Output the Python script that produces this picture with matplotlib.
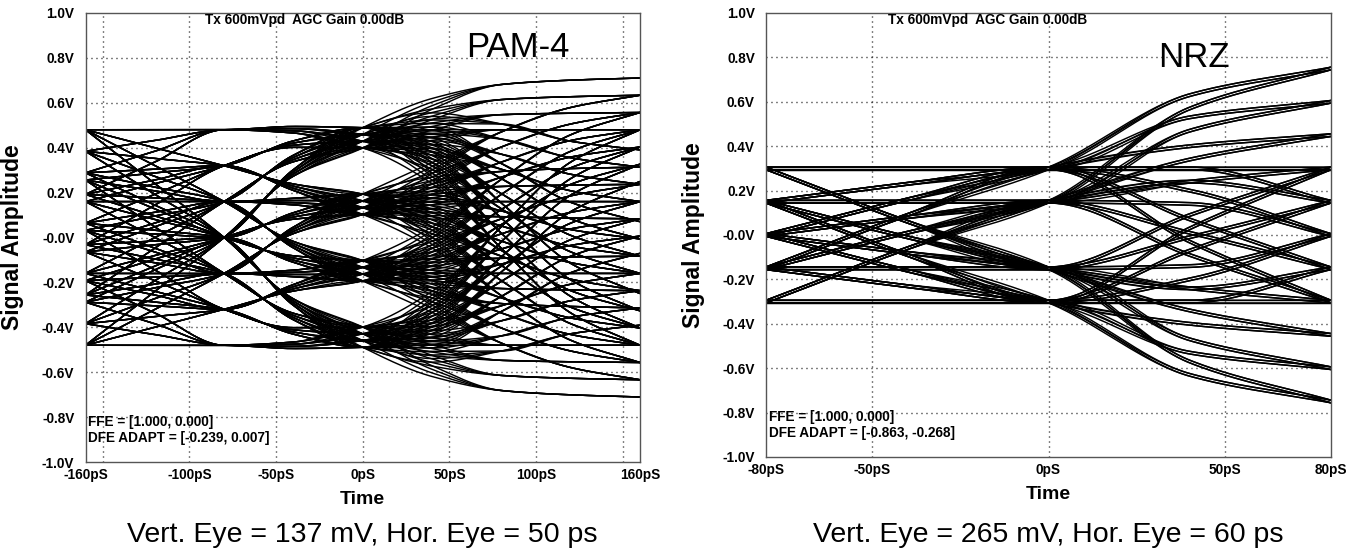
import numpy as np
import matplotlib
matplotlib.use("Agg")
import matplotlib.pyplot as plt
from itertools import product

# ---------------- PAM-4 panel ----------------
pam4_levels = [-3, -1, 1, 3]            # symbol values
pam4_unit = 0.16                        # volts per symbol unit
pam4_knots_ps = [-160, -120, -80, -40, 0, 40, 80, 120, 160]
# contribution of each symbol (oldest -> newest) at every knot time
pam4_w_sm2 = [0.30, 0.15, 0.00, 0.03, 0.094, 0.05, 0.00, 0.00, 0.00]
pam4_w_sm1 = [0.70, 0.60, 0.50, 0.20, 0.00, -0.145, -0.21, -0.23, -0.24]
pam4_w_s0 = [0.00, 0.25, 0.50, 0.80, 0.925, 0.895, 0.66, 0.38, 0.24]
pam4_w_sp1 = [0.00, 0.00, 0.00, 0.00, 0.00, 0.20, 0.55, 0.85, 1.00]
pam4_xticks = [-160, -100, -50, 0, 50, 100, 160]
pam4_xgrid = [-150, -100, -50, 0, 50, 100, 150]
pam4_ffe = "FFE = [1.000, 0.000]"
pam4_dfe = "DFE ADAPT = [-0.239, 0.007]"
pam4_caption = "Vert. Eye = 137 mV, Hor. Eye = 50 ps"

# ---------------- NRZ panel ----------------
nrz_levels = [-1, 1]
nrz_knots_ps = [-80, -40, 0, 40, 80]
nrz_w_sm5 = [0.006, 0.006, 0.006, 0.006, 0.006]
nrz_w_sm4 = [0.075, 0.035, 0.000, 0.000, 0.000]
nrz_w_sm3 = [0.075, 0.075, 0.075, 0.030, 0.000]
nrz_w_sm2 = [0.150, 0.070, 0.000, -0.050, -0.075]
nrz_w_sm1 = [0.000, 0.000, 0.000, -0.115, -0.150]
nrz_w_s0 = [0.000, 0.120, 0.225, 0.270, 0.225]
nrz_w_sp1 = [0.000, 0.000, 0.000, 0.165, 0.300]
nrz_xticks = [-80, -50, 0, 50, 80]
nrz_xgrid = [-50, 0, 50]
nrz_ffe = "FFE = [1.000, 0.000]"
nrz_dfe = "DFE ADAPT = [-0.863, -0.268]"
nrz_caption = "Vert. Eye = 265 mV, Hor. Eye = 60 ps"

header = "Tx 600mVpd  AGC Gain 0.00dB"
y_ticks = [1.0, 0.8, 0.6, 0.4, 0.2, 0.0, -0.2, -0.4, -0.6, -0.8, -1.0]
y_labels = ["1.0V", "0.8V", "0.6V", "0.4V", "0.2V", "-0.0V",
            "-0.2V", "-0.4V", "-0.6V", "-0.8V", "-1.0V"]


def pchip(xk, Y, xs):
    """Monotone cubic Hermite interpolation; Y has shape (curves, knots)."""
    xk = np.asarray(xk, float)
    Y = np.atleast_2d(np.asarray(Y, float))
    h = np.diff(xk)
    d = np.diff(Y, axis=1) / h
    m = np.zeros_like(Y)
    m[:, 0] = d[:, 0]
    m[:, -1] = d[:, -1]
    for k in range(1, len(xk) - 1):
        w1 = 2 * h[k] + h[k - 1]
        w2 = h[k] + 2 * h[k - 1]
        a, b = d[:, k - 1], d[:, k]
        same = a * b > 0
        with np.errstate(divide="ignore", invalid="ignore"):
            hm = (w1 + w2) / (w1 / a + w2 / b)
        m[:, k] = np.where(same, hm, 0.0)
    idx = np.clip(np.searchsorted(xk, xs) - 1, 0, len(xk) - 2)
    x0 = xk[idx]
    hh = h[idx]
    s = (xs - x0) / hh
    h00 = 2 * s ** 3 - 3 * s ** 2 + 1
    h10 = s ** 3 - 2 * s ** 2 + s
    h01 = -2 * s ** 3 + 3 * s ** 2
    h11 = s ** 3 - s ** 2
    return (h00 * Y[:, idx] + h10 * hh * m[:, idx]
            + h01 * Y[:, idx + 1] + h11 * hh * m[:, idx + 1])


def eye_traces(knots, weights, levels, unit, t):
    W = np.asarray(weights, float)                      # taps x knots
    seqs = np.array(list(product(levels, repeat=len(weights))), float)
    V = unit * seqs @ W                                 # traces x knots
    V = np.unique(np.round(V, 5), axis=0)               # drop coincident traces
    return pchip(knots, V, t)


FONT = "Liberation Sans"
fig = plt.figure(figsize=(13.61, 5.5), dpi=100)
ax1 = fig.add_axes([85.5 / 1361, 88 / 550, 554.5 / 1361, 449 / 550])
ax2 = fig.add_axes([766 / 1361, 93 / 550, 565 / 1361, 444 / 550])

panels = [
    (ax1, pam4_knots_ps, [pam4_w_sm2, pam4_w_sm1, pam4_w_s0, pam4_w_sp1],
     pam4_levels, pam4_unit, pam4_xticks, pam4_xgrid, "PAM-4", (0.78, 0.923),
     pam4_ffe, pam4_dfe, (0.088, 0.054), pam4_caption),
    (ax2, nrz_knots_ps, [nrz_w_sm5, nrz_w_sm4, nrz_w_sm3, nrz_w_sm2, nrz_w_sm1,
                         nrz_w_s0, nrz_w_sp1],
     nrz_levels, 1.0, nrz_xticks, nrz_xgrid, "NRZ", (0.757, 0.90),
     nrz_ffe, nrz_dfe, (0.090, 0.055), nrz_caption),
]

for (ax, knots, weights, levels, unit, xticks, xgrid, name, name_pos,
     ffe, dfe, ffe_y, caption) in panels:
    lo, hi = knots[0], knots[-1]
    t = np.linspace(lo, hi, 600)
    for v in eye_traces(knots, weights, levels, unit, t):
        ax.plot(t, v, color="black", lw=1.05, zorder=3, solid_capstyle="butt")

    ax.set_xlim(lo, hi)
    ax.set_ylim(-1.0, 1.0)
    for g in xgrid:
        ax.axvline(g, color="black", lw=1.0, ls=(0, (0.7, 2.9)), zorder=1)
    for g in y_ticks[1:-1]:
        ax.axhline(g, color="black", lw=1.0, ls=(0, (0.7, 2.9)), zorder=1)

    ax.set_xticks(xticks)
    ax.set_xticklabels([f"{x}pS" for x in xticks])
    ax.set_yticks(y_ticks)
    ax.set_yticklabels(y_labels)
    ax.tick_params(length=0, pad=4)
    ax.tick_params(axis="y", pad=8)
    for lab in ax.get_xticklabels() + ax.get_yticklabels():
        lab.set_fontfamily(FONT)
        lab.set_fontweight("bold")
        lab.set_fontsize(9.8)
    for sp in ax.spines.values():
        sp.set_color("#555555")
        sp.set_linewidth(1.0)
        sp.set_zorder(4)

    ax.set_ylabel("Signal Amplitude", fontfamily=FONT, fontweight="bold",
                  fontsize=16.5)
    ax.set_xlabel("Time", fontfamily=FONT, fontweight="bold", fontsize=14)
    w = ax.get_position().width * 1361
    h = ax.get_position().height * 550
    ax.yaxis.set_label_coords(-61 / w, 0.5)
    ax.xaxis.set_label_coords(0.5, -29 / h)

    ax.text(0.216, 0.984, header, transform=ax.transAxes, ha="left",
            va="center", fontfamily=FONT, fontweight="bold", fontsize=9.8,
            zorder=5)
    ax.text(name_pos[0], name_pos[1], name, transform=ax.transAxes,
            ha="center", va="center", fontfamily=FONT, fontsize=25, zorder=5)
    ax.text(0.005, ffe_y[0], ffe, transform=ax.transAxes, ha="left",
            va="center", fontfamily=FONT, fontweight="bold", fontsize=9.8,
            zorder=5)
    ax.text(0.005, ffe_y[1], dfe, transform=ax.transAxes, ha="left",
            va="center", fontfamily=FONT, fontweight="bold", fontsize=9.8,
            zorder=5)

    pos = ax.get_position()
    fig.text(pos.x0 + pos.width / 2, 8 / 550, caption, ha="center",
             va="baseline", fontfamily=FONT, fontsize=20.5)

fig.savefig("out.png", dpi=100, facecolor="white")
